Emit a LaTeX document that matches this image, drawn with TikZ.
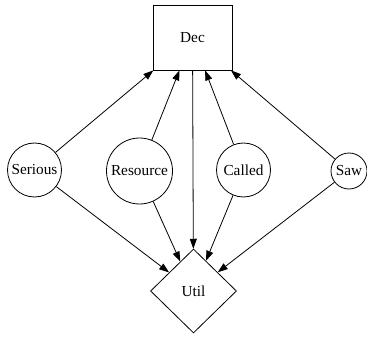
\documentclass[tikz,border=0pt]{standalone}
\usepackage{fontspec}
\setmainfont{Liberation Serif}
\usetikzlibrary{shapes.geometric,arrows.meta}
\begin{document}
\begin{tikzpicture}[x=1pt,y=-1pt,
  every node/.style={font=\fontsize{15.3pt}{17pt}\selectfont, inner sep=0pt, draw, line width=0.8pt},
  circ/.style={circle},
  edge/.style={line width=0.8pt, -{Triangle[length=10pt,width=7pt]}}]
\useasboundingbox (0,0) rectangle (367,337);
\node[rectangle, minimum width=79pt, minimum height=65pt] (dec) at (192.5,37.5) {Dec};
\node[circ, minimum size=54pt] (serious) at (34.5,170) {Serious};
\node[circ, minimum size=66pt] (resource) at (139.5,171) {Resource};
\node[circ, minimum size=54pt] (called) at (243.5,170) {Called};
\node[circ, minimum size=36pt] (saw) at (349,171) {Saw};
\node[diamond, minimum width=86pt, minimum height=84pt] (util) at (193.5,291) {Util};
\draw[edge] (serious) -- (dec);
\draw[edge] (resource) -- (dec);
\draw[edge] (called) -- (dec);
\draw[edge] (saw) -- (dec);
\draw[edge] (dec) -- (util);
\draw[edge] (serious) -- (util);
\draw[edge] (resource) -- (util);
\draw[edge] (called) -- (util);
\draw[edge] (saw) -- (util);
\end{tikzpicture}
\end{document}
